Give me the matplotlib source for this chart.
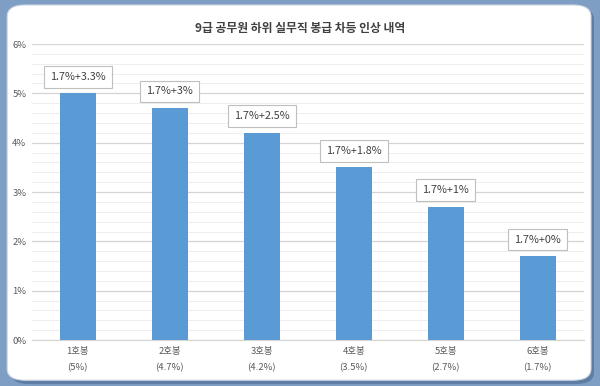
import numpy as np
import matplotlib.pyplot as plt
from matplotlib.patches import FancyBboxPatch
from matplotlib.ticker import MultipleLocator, FuncFormatter

plt.rcParams['font.family'] = ['Noto Sans CJK KR', 'DejaVu Sans']

# data
categories = ['1호봉\n(5%)', '2호봉\n(4.7%)', '3호봉\n(4.2%)', '4호봉\n(3.5%)', '5호봉\n(2.7%)', '6호봉\n(1.7%)']
values = [5.0, 4.7, 4.2, 3.5, 2.7, 1.7]
bar_labels = ['1.7%+3.3%', '1.7%+3%', '1.7%+2.5%', '1.7%+1.8%', '1.7%+1%', '1.7%+0%']

fig = plt.figure(figsize=(6, 3.86), dpi=100)
fig.patch.set_facecolor('#7f9ec4')

# white rounded panel with a soft shadow
shadow = FancyBboxPatch((0.018, 0.005), 0.972, 0.975, boxstyle='round,pad=0,rounding_size=0.03',
                        transform=fig.transFigure, facecolor='#5f7ea6', edgecolor='none', zorder=-3)
panel = FancyBboxPatch((0.012, 0.015), 0.973, 0.972, boxstyle='round,pad=0,rounding_size=0.03',
                       transform=fig.transFigure, facecolor='white', edgecolor='#d0d8e4', lw=0.8, zorder=-2)
fig.patches.extend([shadow, panel])

ax = fig.add_axes([0.053, 0.119, 0.92, 0.767])
ax.set_facecolor('none')
x = np.arange(len(values))
bars = ax.bar(x, values, width=0.39, color='#5b9bd5', zorder=3)

ax.set_ylim(0, 6)
ax.set_xlim(-0.5, len(values) - 0.5)
ax.yaxis.set_major_locator(MultipleLocator(1))
ax.yaxis.set_minor_locator(MultipleLocator(0.2))
ax.yaxis.set_major_formatter(FuncFormatter(lambda v, p: f'{v:.0f}%'))
ax.grid(axis='y', which='major', color='#d4d4d4', lw=0.9, zorder=0)
ax.grid(axis='y', which='minor', color='#eeeeee', lw=0.7, zorder=0)
ax.tick_params(axis='both', which='both', length=0, labelsize=6.8, labelcolor='#595959')
ax.tick_params(axis='y', pad=4)
ax.tick_params(axis='x', pad=5)
ax.set_xticks(x)
ax.set_xticklabels(categories, linespacing=2.0)
for s in ['top', 'right', 'left']:
    ax.spines[s].set_visible(False)
ax.spines['bottom'].set_color('#d4d4d4')

for b, lab in zip(bars, bar_labels):
    ax.annotate(lab, (b.get_x() + b.get_width() / 2, b.get_height()), xytext=(0, 12),
                textcoords='offset points', ha='center', va='center', fontsize=7.8, color='#404040',
                bbox=dict(boxstyle='square,pad=0.55', fc='white', ec='#bfbfbf', lw=0.8), zorder=4)

fig.text(0.5, 0.927, '9급 공무원 하위 실무직 봉급 차등 인상 내역', ha='center', va='center',
         fontsize=8.5, fontweight='bold', color='#404040')

fig.savefig('out.png', dpi=100, facecolor=fig.get_facecolor())
